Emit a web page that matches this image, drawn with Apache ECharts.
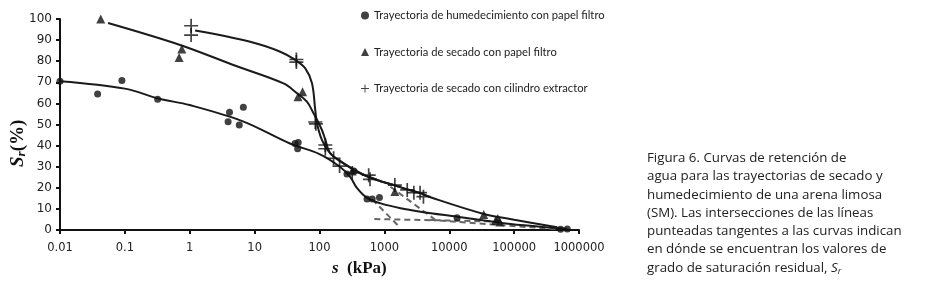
<!DOCTYPE html>
<html lang="es">
  <head>
    <meta charset="UTF-8" />
    <title>Curvas de retención</title>
    <script src="https://cdn.jsdelivr.net/npm/echarts@6/dist/echarts.min.js"></script>
    <style>
      body { margin: 0; background: #fff; }
    </style>
  </head>
  <body>
    <div id="main" style="width: 925px; height: 288px"></div>
    <script type="text/javascript">
      // measured points [s (kPa), Sr (%)]
      const wettingPoints = [
        [0.01, 70.5], [0.038, 64.5], [0.09, 70.8], [0.32, 62], [3.9, 51.3], [4.1, 55.8],
        [5.8, 49.8], [6.7, 58.2], [42, 41], [47, 41.5], [46, 38.5], [265, 26.5], [340, 28],
        [540, 14.7], [650, 14.7], [840, 15.4], [13200, 5.8], [520000, 0.4], [660000, 0.5]
      ];
      const dryingPaperPoints = [
        [0.0425, 100], [0.755, 85.8], [0.686, 81.8], [46.6, 63.2], [54.8, 65.5], [320, 28],
        [1450, 18.2], [34000, 7.4], [52000, 4.5], [56000, 5.5], [60000, 3.8]
      ];
      const dryingCylinderPoints = [
        [1.05, 96.8], [1.05, 92.4], [44, 80.8], [44, 79.6], [86, 51.2], [88, 50.3],
        [123, 40.3], [123, 38.5], [165, 34], [204, 30.3], [320, 27], [573, 26], [600, 24],
        [1450, 21.3], [2250, 19], [2850, 17.7], [3550, 17.7], [4000, 15.8]
      ];

      // fitted curves
      const wettingCurve = [
        [0.01, 70.5], [0.1, 67], [0.33, 62.3], [1, 59.2], [6.6, 51.5], [35, 41], [100, 36],
        [206, 30], [295, 25.3], [380, 19.8], [541, 15.2], [880, 12.6], [1780, 10.3],
        [3600, 8.7], [13200, 6.3], [88000, 2.8], [520000, 0.8], [660000, 0.5]
      ];
      const dryingPaperCurve = [
        [0.055, 98.1], [0.71, 87.7], [4.7, 78.2], [27.9, 69.5], [45, 64.8], [64, 60.8],
        [81, 55.3], [109, 47.4], [123, 42.7], [147, 36.3], [235, 31.6], [427, 26.9],
        [771, 23.7], [1393, 21.3], [2520, 18.8], [3594, 17.5], [5130, 15.5], [34000, 7.6],
        [100000, 4.9], [462000, 1.3]
      ];
      const dryingCylinderCurve = [
        [1.21, 94.5], [8.55, 89.2], [24.8, 84.5], [42.4, 80.6], [60.4, 76.6], [76.6, 69.5],
        [86, 56.9], [91.4, 50.6], [109, 42.7], [147, 36.3], [235, 31.6], [427, 26.9],
        [771, 23.7], [1393, 21.3], [2520, 18.8], [3594, 17.5], [5130, 15.5]
      ];

      // dashed tangents
      const tangentA = [[650, 14.5], [1700, 1.5]];
      const tangentB = [[700, 5.2], [60000, 4.0]];
      const tangentC = [[1240, 20.5], [6000, 5]];
      const tangentD = [[5000, 4.8], [500000, 0.3]];

      const yTicks = [0, 10, 20, 30, 40, 50, 60, 70, 80, 90, 100];

      const names = [
        'Trayectoria de humedecimiento con papel filtro',
        'Trayectoria de secado con papel filtro',
        'Trayectoria de secado con cilindro extractor'
      ];

      const plusPath = 'path://M4.4,0h1.2v4.4h4.4v1.2h-4.4v4.4h-1.2v-4.4h-4.4v-1.2h4.4z';

      function curve(data) {
        return {
          type: 'line', data: data, smooth: 0.35, showSymbol: false, silent: true,
          lineStyle: { color: '#1a1a1a', width: 2 }, z: 2
        };
      }
      function dashed(data) {
        return {
          type: 'line', data: data, showSymbol: false, silent: true,
          lineStyle: { color: '#666', width: 2, type: [6, 4] }, z: 1
        };
      }

      const chart = echarts.init(document.getElementById('main'));
      chart.setOption({
        animation: false,
        backgroundColor: '#fff',
        textStyle: { fontFamily: 'Lato' },
        grid: { left: 60, right: 346, top: 19, bottom: 58 },
        title: {
          left: 642, top: 144,
          text: 'Figura 6. Curvas de retención de\nagua para las trayectorias de secado y\nhumedecimiento de una arena limosa\n(SM). Las intersecciones de las líneas\npunteadas tangentes a las curvas indican\nen dónde se encuentran los valores de\ngrado de saturación residual, {i|S}{sub|r}',
          textStyle: {
            fontFamily: 'Open Sans', fontSize: 13.3, fontWeight: 'normal', color: '#222', lineHeight: 18.3,
            rich: {
              i: { fontFamily: 'Open Sans', fontSize: 13.3, fontStyle: 'italic', color: '#222' },
              sub: { fontFamily: 'Open Sans', fontSize: 9, fontStyle: 'italic', color: '#222', padding: [6, 0, 0, 0] }
            }
          }
        },
        legend: {
          orient: 'vertical', left: 356, top: 5, itemGap: 25.5,
          itemWidth: 8, itemHeight: 8,
          textStyle: { fontFamily: 'Lato', fontSize: 11.2, color: '#222' },
          data: [
            { name: names[0], icon: 'circle', itemStyle: { color: '#111' } },
            { name: names[1], icon: 'triangle' },
            { name: names[2], icon: plusPath, itemWidth: 10, itemHeight: 10 }
          ]
        },
        xAxis: {
          type: 'log', logBase: 10, min: 0.01, max: 1000000,
          axisLine: { lineStyle: { color: '#111', width: 2 } },
          axisTick: { length: 4, lineStyle: { color: '#111', width: 2 } },
          minorTick: { show: false },
          splitLine: { show: false },
          axisLabel: {
            color: '#222', fontFamily: 'DejaVu Sans', fontSize: 11.5, margin: 12,
            formatter: function (v) {
              return v < 1 ? String(Number(v.toPrecision(1))) : String(Math.round(v));
            }
          }
        },
        yAxis: {
          type: 'value', min: yTicks[0], max: yTicks[yTicks.length - 1], interval: 10,
          axisLine: { show: true, lineStyle: { color: '#111', width: 2 } },
          axisTick: { show: true, length: 4, lineStyle: { color: '#111', width: 2 } },
          splitLine: { show: false },
          axisLabel: { color: '#222', fontFamily: 'DejaVu Sans', fontSize: 12, margin: 8 }
        },
        graphic: [
          {
            type: 'text', left: 332, top: 260,
            style: {
              text: '{i|s}  (kPa)',
              fontFamily: 'Liberation Serif', fontSize: 17, fontWeight: 'bold', fill: '#111',
              rich: { i: { fontFamily: 'Liberation Serif', fontSize: 17, fontStyle: 'italic', fontWeight: 'bold' } }
            }
          },
          {
            type: 'text', x: 9, y: 167, rotation: Math.PI / 2,
            style: {
              text: '{i|S}{sub|r}(%)',
              fontFamily: 'Liberation Serif', fontSize: 19, fontWeight: 'bold', fill: '#111',
              rich: {
                i: { fontFamily: 'Liberation Serif', fontSize: 19, fontStyle: 'italic', fontWeight: 'bold' },
                sub: { fontFamily: 'Liberation Serif', fontSize: 13, fontStyle: 'italic', fontWeight: 'bold', padding: [6, 0, 0, 0] }
              }
            }
          }
        ],
        series: [
          dashed(tangentA), dashed(tangentB), dashed(tangentC), dashed(tangentD),
          curve(wettingCurve), curve(dryingPaperCurve), curve(dryingCylinderCurve),
          {
            name: names[0], type: 'scatter', data: wettingPoints, symbol: 'circle', symbolSize: 7,
            itemStyle: { color: '#111' }, z: 3
          },
          {
            name: names[1], type: 'scatter', data: dryingPaperPoints, symbol: 'triangle', symbolSize: 9,
            itemStyle: { color: '#111' }, z: 3
          },
          {
            name: names[2], type: 'scatter', data: dryingCylinderPoints, symbol: plusPath, symbolSize: 14,
            itemStyle: { color: '#111' }, z: 3
          }
        ]
      });
    </script>
  </body>
</html>
